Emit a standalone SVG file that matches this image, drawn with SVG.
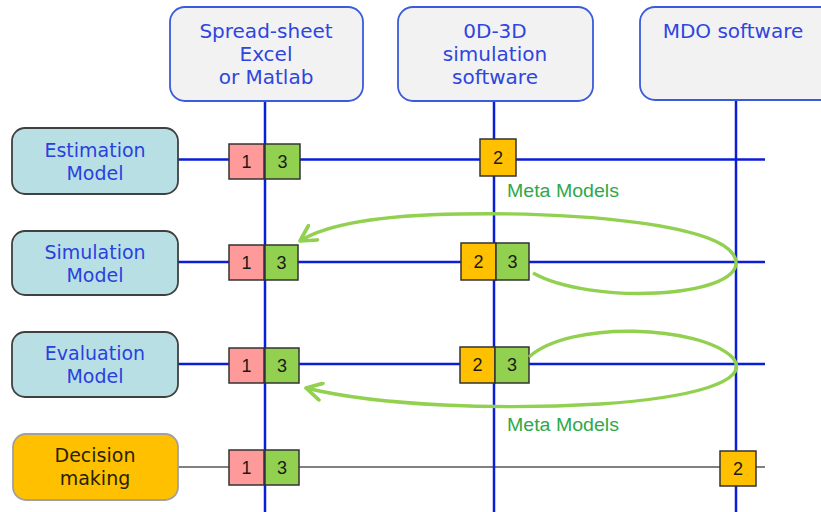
<svg xmlns="http://www.w3.org/2000/svg" width="821" height="512" viewBox="0 0 821 512">
<defs>
<style>
.hdr{fill:#f2f2f2;stroke:#3b5bdb;stroke-width:1.8}
.hdrt{font-family:"DejaVu Sans",Verdana,sans-serif;font-size:20px;fill:#2f45e0;text-anchor:middle}
.mdl{fill:#b8e0e4;stroke:#404040;stroke-width:1.8}
.dec{fill:#ffc000;stroke:#a0a0a0;stroke-width:1.8}
.mt{font-family:"DejaVu Sans",Verdana,sans-serif;font-size:19px;fill:#2a3fe0;text-anchor:middle}
.dt{font-family:"DejaVu Sans",Verdana,sans-serif;font-size:19px;fill:#2a1f00;text-anchor:middle}
.bl{stroke:#0a1ed8;stroke-width:2.5;fill:none}
.gl{stroke:#808080;stroke-width:2.2;fill:none}
.p{fill:#ff9a9a;stroke:#333;stroke-width:1.5}
.g{fill:#92d050;stroke:#333;stroke-width:1.5}
.o{fill:#ffc000;stroke:#333;stroke-width:1.5}
.n{font-family:"Liberation Sans",Arial,sans-serif;font-size:18px;fill:#1a1a1a;text-anchor:middle}
.meta{font-family:"Liberation Sans",Arial,sans-serif;font-size:18px;fill:#2fa84a}
.loop{stroke:#92d050;stroke-width:3.4;fill:none}
</style>
<marker id="ah" viewBox="0 0 12 12" refX="10.5" refY="6" markerWidth="6" markerHeight="6" orient="auto" markerUnits="strokeWidth">
<path d="M1.5 1 L10.5 6 L1.5 11" fill="none" stroke="#92d050" stroke-width="2.2" stroke-linecap="round" stroke-linejoin="round"/>
</marker>
</defs>

<g id="connectors">
<line class="bl" x1="178" y1="159.5" x2="765" y2="159.5"/>
<line class="bl" x1="178" y1="262" x2="765" y2="262"/>
<line class="bl" x1="178" y1="364" x2="765" y2="364"/>
<line class="gl" x1="178" y1="467" x2="765" y2="467"/>
<line class="bl" x1="265" y1="101" x2="265" y2="512"/>
<line class="bl" x1="494" y1="101" x2="494" y2="512"/>
<line class="bl" x1="736" y1="100" x2="736" y2="512"/>
</g>

<g id="hdr-spreadsheet">
<rect class="hdr" x="170" y="7" width="193" height="94" rx="15"/>
<text class="hdrt" x="266" y="38">Spread-sheet</text>
<text class="hdrt" x="266" y="61">Excel</text>
<text class="hdrt" x="266" y="84">or Matlab</text>
</g>
<g id="hdr-sim">
<rect class="hdr" x="398" y="7" width="195" height="94" rx="15"/>
<text class="hdrt" x="495" y="38">0D-3D</text>
<text class="hdrt" x="495" y="61">simulation</text>
<text class="hdrt" x="495" y="84">software</text>
</g>
<g id="hdr-mdo">
<rect class="hdr" x="640" y="7" width="200" height="93" rx="15"/>
<text class="hdrt" x="733" y="38">MDO software</text>
</g>

<g id="estimation">
<rect class="mdl" x="12" y="128" width="166" height="66" rx="13"/>
<text class="mt" x="95" y="157">Estimation</text>
<text class="mt" x="95" y="180">Model</text>
</g>
<g id="simulation">
<rect class="mdl" x="12" y="231" width="166" height="64" rx="13"/>
<text class="mt" x="95" y="259">Simulation</text>
<text class="mt" x="95" y="282">Model</text>
</g>
<g id="evaluation">
<rect class="mdl" x="12" y="332" width="166" height="65" rx="13"/>
<text class="mt" x="95" y="360">Evaluation</text>
<text class="mt" x="95" y="383">Model</text>
</g>
<g id="decision">
<rect class="dec" x="13" y="434" width="165" height="66" rx="13"/>
<text class="dt" x="95" y="462">Decision</text>
<text class="dt" x="95" y="485">making</text>
</g>

<g id="r1-tags">
<rect class="p" x="229" y="144" width="35" height="35"/><text class="n" x="246.5" y="168">1</text>
<rect class="g" x="265" y="144" width="35" height="35"/><text class="n" x="282.5" y="168">3</text>
<rect class="o" x="480" y="139" width="36" height="37"/><text class="n" x="498" y="164">2</text>
</g>
<g id="r2-tags">
<rect class="p" x="229" y="245" width="35" height="35"/><text class="n" x="246.5" y="269">1</text>
<rect class="g" x="265" y="245" width="33" height="35"/><text class="n" x="281.5" y="269">3</text>
<rect class="o" x="461" y="243" width="35" height="37"/><text class="n" x="478.5" y="268">2</text>
<rect class="g" x="496" y="243" width="33" height="37"/><text class="n" x="512.5" y="268">3</text>
</g>
<g id="r3-tags">
<rect class="p" x="229" y="348" width="35" height="35"/><text class="n" x="246.5" y="372">1</text>
<rect class="g" x="265" y="348" width="34" height="35"/><text class="n" x="282" y="372">3</text>
<rect class="o" x="460" y="347" width="35" height="36"/><text class="n" x="477.5" y="371">2</text>
<rect class="g" x="495" y="347" width="34" height="36"/><text class="n" x="512" y="371">3</text>
</g>
<g id="r4-tags">
<rect class="p" x="229" y="450" width="35" height="35"/><text class="n" x="246.5" y="474">1</text>
<rect class="g" x="265" y="450" width="34" height="35"/><text class="n" x="282" y="474">3</text>
<rect class="o" x="720" y="451" width="36" height="35"/><text class="n" x="738" y="475">2</text>
</g>

<g id="meta-loops">
<path class="loop" marker-end="url(#ah)" d="M533 273 C590 305 738 298 736 262 C733 223 570 212 460 214 C390 215 330 222 300 241"/>
<path class="loop" marker-end="url(#ah)" d="M529 357 C570 320 700 325 733 358 C752 382 690 398 600 404 C500 410 380 406 306 388"/>
<text class="meta" x="507" y="197" textLength="112" lengthAdjust="spacingAndGlyphs">Meta Models</text>
<text class="meta" x="507" y="431" textLength="112" lengthAdjust="spacingAndGlyphs">Meta Models</text>
</g>
</svg>
